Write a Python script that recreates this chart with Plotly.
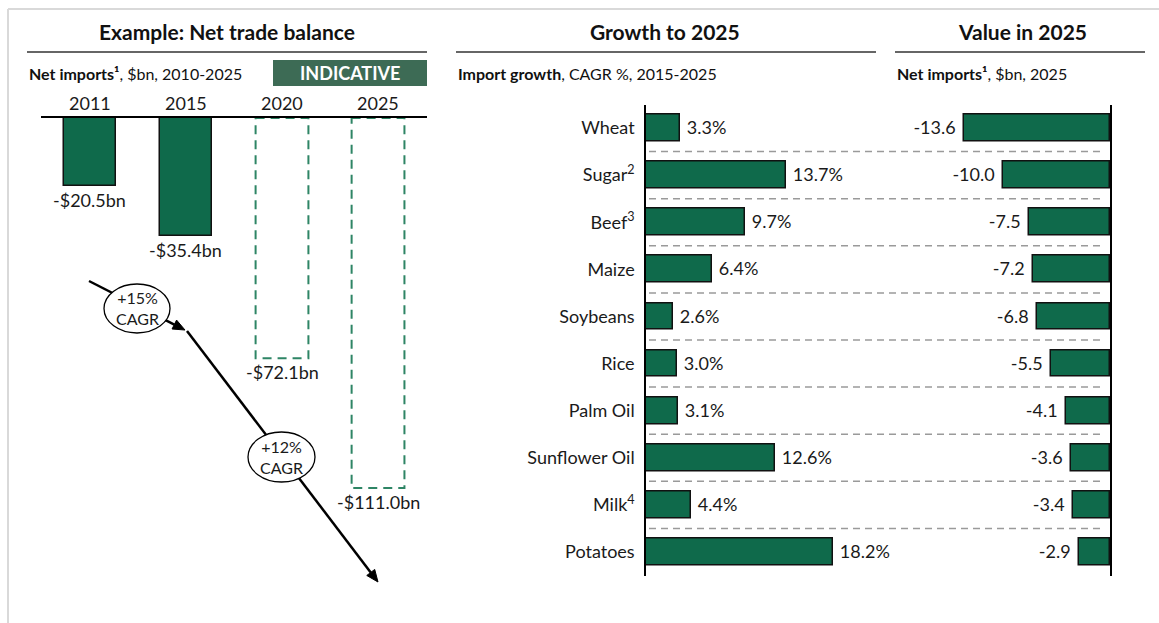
import plotly.graph_objects as go

# ---- data ----
years = ["2011", "2015", "2020", "2025"]
net_balance = [-20.5, -35.4, -72.1, -111.0]
projected = [False, False, True, True]

crops = ["Wheat", "Sugar<sup>2</sup>", "Beef<sup>3</sup>", "Maize", "Soybeans",
         "Rice", "Palm Oil", "Sunflower Oil", "Milk<sup>4</sup>", "Potatoes"]
growth_cagr = [3.3, 13.7, 9.7, 6.4, 2.6, 3.0, 3.1, 12.6, 4.4, 18.2]
value_2025 = [-13.6, -10.0, -7.5, -7.2, -6.8, -5.5, -4.1, -3.6, -3.4, -2.9]

cagr_labels = ["+15%<br>CAGR", "+12%<br>CAGR"]

# ---- styling ----
W, H = 1159, 623
FONT = "Lato, 'Open Sans', sans-serif"
GREEN = "#0f6a4b"
DASH_GREEN = "#2e8565"
TEXT = "#1a1a1a"
LBL = 18


def px(x):
    return x / W


def py(y):
    return 1 - y / H


def note(x, y, text, size=LBL, color=TEXT, xanchor="center", **kw):
    return dict(xref="paper", yref="paper", x=px(x), y=py(y), text=text,
                showarrow=False, xanchor=xanchor, yanchor="middle",
                font=dict(family=FONT, size=size, color=color), **kw)


fig = go.Figure()

# Left: historic net balance (solid bars)
xs = list(range(len(years)))
fig.add_trace(go.Bar(
    x=[i for i, p in zip(xs, projected) if not p],
    y=[v for v, p in zip(net_balance, projected) if not p],
    width=0.55,
    marker=dict(color=GREEN, line=dict(color="#111", width=1.5)),
    xaxis="x", yaxis="y", showlegend=False, hoverinfo="skip",
))

shapes = []
annotations = []

# projected years as dashed outlines, value labels under every bar
for i, (yr, v, p) in enumerate(zip(years, net_balance, projected)):
    if p:
        shapes.append(dict(type="rect", xref="x", yref="y",
                           x0=i - 0.275, x1=i + 0.275, y0=0, y1=v,
                           line=dict(color=DASH_GREEN, width=2, dash="9px,6px"),
                           fillcolor="rgba(0,0,0,0)", layer="above"))
    annotations.append(dict(xref="x", yref="y", x=i, y=v, xanchor="center",
                            yanchor="top", yshift=-1, showarrow=False,
                            text=f"-${abs(v):.1f}bn",
                            font=dict(family=FONT, size=LBL, color=TEXT)))
    annotations.append(dict(xref="x", yref="paper", x=i, y=py(103),
                            xanchor="center", yanchor="middle",
                            showarrow=False, text=yr,
                            font=dict(family=FONT, size=LBL, color=TEXT)))

# Middle: growth bars
fig.add_trace(go.Bar(
    y=crops, x=growth_cagr, orientation="h", width=0.57,
    marker=dict(color=GREEN, line=dict(color="#111", width=1.5)),
    texttemplate=" %{x:.1f}%", textposition="outside",
    textfont=dict(family=FONT, size=LBL, color=TEXT), cliponaxis=False,
    xaxis="x2", yaxis="y2", showlegend=False, hoverinfo="skip",
))

# Right: value in 2025
fig.add_trace(go.Bar(
    y=crops, x=value_2025, orientation="h", width=0.57,
    marker=dict(color=GREEN, line=dict(color="#111", width=1.5)),
    texttemplate="%{x:.1f} ", textposition="outside",
    textfont=dict(family=FONT, size=LBL, color=TEXT), cliponaxis=False,
    xaxis="x3", yaxis="y3", showlegend=False, hoverinfo="skip",
))

# dashed row separators spanning both right-hand panels
for k in range(len(crops) - 1):
    shapes.append(dict(type="line", xref="paper", yref="y2",
                       x0=px(649), x1=px(1104), y0=k + 0.5, y1=k + 0.5,
                       line=dict(color="#9a9a9a", width=1.5, dash="7px,5px"),
                       layer="below"))

# outer frame (top and left edges)
shapes.append(dict(type="line", xref="paper", yref="paper",
                   x0=px(8), x1=1.0, y0=py(9), y1=py(9),
                   line=dict(color="#d9d9d9", width=2)))
shapes.append(dict(type="line", xref="paper", yref="paper",
                   x0=px(8), x1=px(8), y0=py(9), y1=0,
                   line=dict(color="#d9d9d9", width=2)))

# section headers
for cx, x0, x1, title in [(227, 27, 427, "Example: Net trade balance"),
                          (665, 456, 876, "Growth to 2025"),
                          (1022, 895, 1145, "Value in 2025")]:
    annotations.append(note(cx, 32, f"<b>{title}</b>", size=21, color="#111"))
    shapes.append(dict(type="line", xref="paper", yref="paper",
                       x0=px(x0), x1=px(x1), y0=py(52), y1=py(52),
                       line=dict(color="#333", width=1.5)))

for x0, txt in [(27, "<b>Net imports¹</b>, $bn, 2010-2025"),
                (456, "<b>Import growth</b>, CAGR %, 2015-2025"),
                (895, "<b>Net imports¹</b>, $bn, 2025")]:
    annotations.append(note(x0, 73, txt, size=16, color="#111",
                            xanchor="left"))

# INDICATIVE tag
shapes.append(dict(type="rect", xref="paper", yref="paper",
                   x0=px(273), x1=px(427), y0=py(86), y1=py(60),
                   fillcolor="#3d6b55", line=dict(width=0)))
annotations.append(note(350, 73, "<b>INDICATIVE</b>", size=18,
                        color="white"))

# CAGR trend arrows: shaft line plus a filled triangular head
segments = [((89, 281), (185, 330)), ((187, 331), (378, 582))]
for (x0, y0), (x1, y1) in segments:
    dx, dy = x1 - x0, y1 - y0
    n = (dx * dx + dy * dy) ** 0.5
    ux, uy = dx / n, dy / n
    bx, by = x1 - ux * 12, y1 - uy * 12
    shapes.append(dict(type="line", xref="paper", yref="paper",
                       x0=px(x0), y0=py(y0), x1=px(bx), y1=py(by),
                       line=dict(color="#000", width=2.5)))
    pts = [(x1, y1), (bx - uy * 5, by + ux * 5), (bx + uy * 5, by - ux * 5)]
    path = "M " + " L ".join(f"{px(a):.5f},{py(b):.5f}" for a, b in pts) + " Z"
    shapes.append(dict(type="path", xref="paper", yref="paper", path=path,
                       fillcolor="#000", line=dict(color="#000", width=1)))

ellipses = [(104, 284, 170, 333), (248, 432, 315, 482)]
for (x0, y0, x1, y1), lab in zip(ellipses, cagr_labels):
    shapes.append(dict(type="circle", xref="paper", yref="paper",
                       x0=px(x0), x1=px(x1), y0=py(y1), y1=py(y0),
                       fillcolor="white", line=dict(color="#000", width=1.3),
                       layer="above"))
    annotations.append(note((x0 + x1) / 2, (y0 + y1) / 2, lab, size=16))

row_top, row_bot = 104.5, 575.5

fig.update_layout(
    width=W, height=H, margin=dict(l=0, r=0, t=0, b=0),
    paper_bgcolor="white", plot_bgcolor="white",
    font=dict(family=FONT, size=LBL, color=TEXT),
    bargap=0,
    xaxis=dict(domain=[px(41), px(427)], range=[-0.51, 3.51], side="top",
               showline=True, linecolor="#000", linewidth=1.5,
               showgrid=False, zeroline=False, ticks="",
               showticklabels=False, anchor="y", fixedrange=True),
    yaxis=dict(domain=[py(600), py(118)], range=[-144.6, 0],
               visible=False, anchor="x"),
    xaxis2=dict(domain=[px(646), px(876)], range=[0, 22.44], visible=False,
                anchor="y2"),
    yaxis2=dict(domain=[py(row_bot), py(row_top)], autorange="reversed",
                type="category", showline=True, linecolor="#000",
                linewidth=1.5, showgrid=False, zeroline=False, ticks="",
                tickfont=dict(family=FONT, size=LBL, color=TEXT),
                ticklabelstandoff=6, anchor="x2"),
    xaxis3=dict(domain=[px(895), px(1110)], range=[-20, 0], visible=False,
                anchor="y3"),
    yaxis3=dict(domain=[py(row_bot), py(row_top)], autorange="reversed",
                type="category", side="right", showline=True,
                linecolor="#000", linewidth=1.5, showgrid=False,
                zeroline=False, ticks="", showticklabels=False, anchor="x3"),
    shapes=shapes, annotations=annotations,
)

fig.write_html("out.html")
